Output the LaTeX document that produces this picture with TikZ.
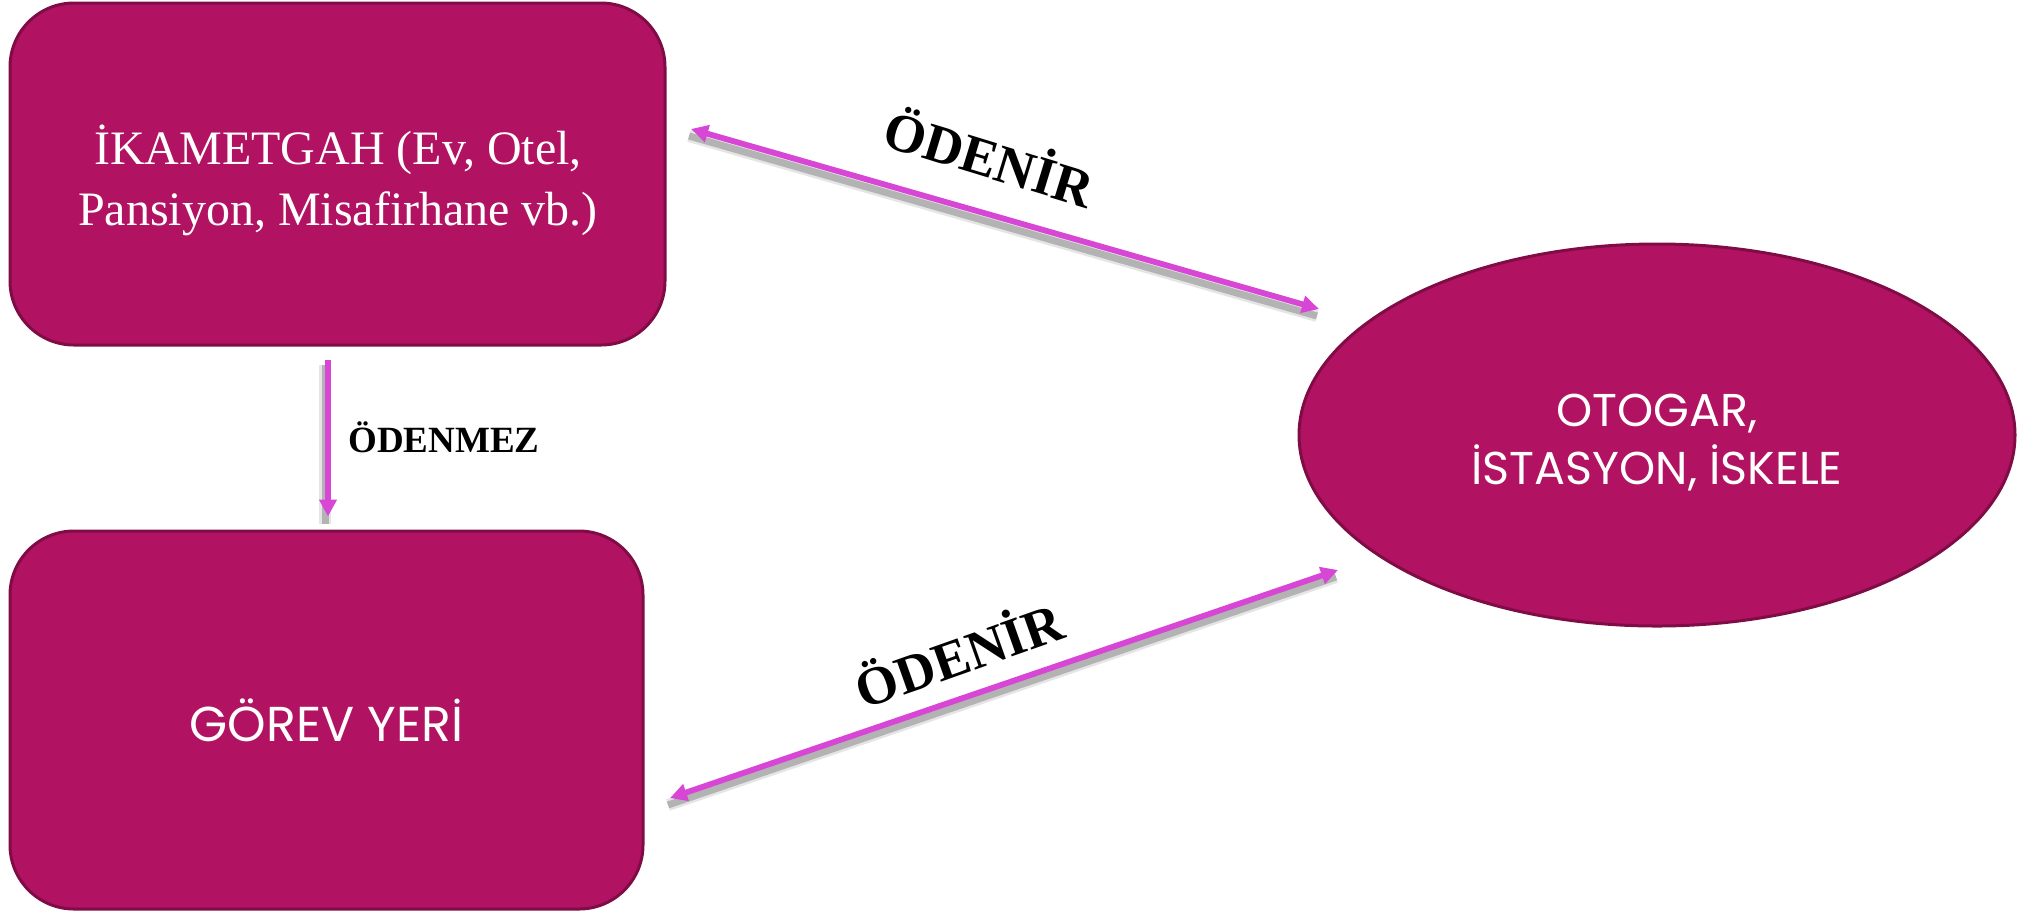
\documentclass[tikz,border=0pt]{standalone}
\usepackage{fontspec}
\setmainfont{Liberation Serif}
\newfontfamily\gothic{Poppins}
\usetikzlibrary{arrows.meta,shapes.geometric,calc}
\definecolor{boxfill}{RGB}{177,18,97}
\definecolor{boxline}{RGB}{128,12,70}
\definecolor{conncol}{RGB}{216,70,214}
\begin{document}
\begin{tikzpicture}[x=0.5pt,y=-0.5pt,
  rbox/.style={draw=boxline,line width=1.5pt,fill=boxfill,rounded corners=32pt,text=white,align=center,inner sep=0pt},
  oval/.style={ellipse,draw=boxline,line width=1.5pt,fill=boxfill,text=white,align=center,inner sep=0pt},
  conn/.style={draw=conncol,line width=2.9pt,{Triangle[width=8.5pt,length=8.5pt]}-{Triangle[width=8.5pt,length=8.5pt]}},
  connone/.style={draw=conncol,line width=2.9pt,-{Triangle[width=8.5pt,length=8.5pt]}},
  shadA/.style={draw=black,line width=6pt,opacity=0.10},
  shadB/.style={draw=black,line width=3.5pt,opacity=0.22},
  lbl/.style={font=\bfseries,text=black,inner sep=0pt}
]
\useasboundingbox (0,0) rectangle (2017,912);

\node[rbox,minimum width=327.5pt,minimum height=171pt] (top) at (337.5,174) {};
\node[text=white,align=center,inner sep=0pt,font=\fontsize{24}{30.5}\selectfont] (toptext) at (338,180) {İKAMETGAH (Ev, Otel,\\Pansiyon, Misafirhane vb.)};
\node[rbox,minimum width=316.5pt,minimum height=189pt,font=\gothic\fontsize{24.5}{29}\selectfont] (bot) at (326.5,720) {GÖREV YERİ};
\node[oval,minimum width=358pt,minimum height=191pt] (ell) at (1657,435) {};
\node[text=white,align=center,inner sep=0pt,font=\gothic\fontsize{23}{29}\selectfont] (elltext) at (1657,443) {OTOGAR,\\İSTASYON, İSKELE};

\coordinate (dx) at (328,0);
\coordinate (a1) at (691,129);
\coordinate (a2) at (1319,309);
\coordinate (b1) at (1338,570);
\coordinate (b2) at (670,798);

% shadows
\foreach \s in {shadA,shadB}{
  \draw[\s] ($(a1)+(-2,7)$) -- ($(a2)+(-2,7)$);
  \draw[\s] ($(b1)+(-2,7)$) -- ($(b2)+(-2,7)$);
  \draw[\s] ($(top.south -| dx)+(-3,18)$) -- ($(bot.north -| dx)+(-3,-6)$);
}

\draw[connone,shorten <=6.5pt,shorten >=6.5pt] (top.south -| dx) -- (bot.north -| dx);
\draw[conn] (a1) -- (a2);
\draw[conn] (b1) -- (b2);

\node[lbl,font=\bfseries\fontsize{18.5}{21}\selectfont,anchor=west] (l0) at (348,437) {ÖDENMEZ};
\node[lbl,font=\bfseries\fontsize{27}{30}\selectfont,rotate=-17] (l1) at (990,155) {ÖDENİR};
\node[lbl,font=\bfseries\fontsize{27}{30}\selectfont,rotate=19.5] (l2) at (958,652) {ÖDENİR};
\end{tikzpicture}
\end{document}
